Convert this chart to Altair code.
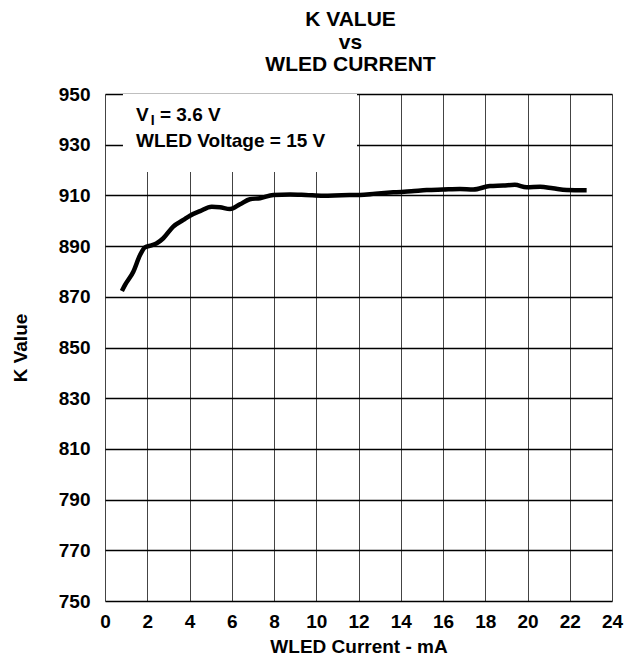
import altair as alt
import pandas as pd

# Curve
current = [0.8, 0.95, 1.34, 1.66, 1.89, 2.2, 2.45, 2.76, 3.23, 3.71, 4.02, 4.5, 5.05,
           5.44, 5.92, 6.39, 6.86, 7.34, 7.97, 8.76, 9.5, 10.33, 11.2, 12.07, 12.8,
           13.65, 14.5, 15.23, 16.0, 16.8, 17.43, 18.22, 18.85, 19.4, 19.96, 20.6,
           21.2, 21.85, 22.8]
k_value = [872.3, 874.7, 879.9, 886.5, 889.5, 890.3, 891.1, 893.1, 897.7, 900.3, 902.0,
           903.8, 905.5, 905.3, 904.6, 906.5, 908.5, 908.9, 910.2, 910.4, 910.2, 909.9,
           910.1, 910.2, 910.7, 911.2, 911.6, 912.1, 912.3, 912.5, 912.3, 913.7, 913.9,
           914.2, 913.2, 913.4, 912.8, 912.1, 912.0]

x_ticks = list(range(0, 25, 2))
y_ticks = list(range(750, 951, 20))

title_lines = ["K VALUE", "vs", "WLED CURRENT"]
x_title = "WLED Current - mA"
y_title = "K Value"

# Annotation (condition box) in data units
box_x = [0.85, 11.93]
box_y = [919.2, 950]
note_text = ["V", "I", "= 3.6 V", "WLED Voltage = 15 V"]
note_x = [1.47, 2.16, 2.6, 1.47]
note_y = [939.5, 937.6, 939.5, 929.2]
note_size = [19, 14, 19, 19]

FONT = "Liberation Sans"

df = pd.DataFrame({"current": current, "k": k_value})
box_df = pd.DataFrame({"x": [box_x[0]], "x2": [box_x[1]], "y": [box_y[0]], "y2": [box_y[1]]})
note_df = pd.DataFrame({"x": note_x, "y": note_y, "text": note_text, "size": note_size})

xscale = alt.Scale(domain=[0, 24], nice=False, zero=False)
yscale = alt.Scale(domain=[750, 950], nice=False, zero=False)

xaxis = alt.Axis(values=x_ticks, grid=True, ticks=False, domain=False,
                 gridColor="#444444", gridWidth=1,
                 labelFont=FONT, labelFontWeight="bold", labelFontSize=19,
                 labelColor="black", labelPadding=11, labelFlush=False,
                 title=x_title, titleFont=FONT, titleFontWeight="bold",
                 titleFontSize=19, titleColor="black",
                 titleX=253.5, titleY=45, titleBaseline="middle", titleAlign="center")
yaxis = alt.Axis(values=y_ticks, grid=True, ticks=False, domain=False,
                 gridColor="black", gridWidth=1.4,
                 labelFont=FONT, labelFontWeight="bold", labelFontSize=19,
                 labelColor="black", labelPadding=15, labelFlush=False,
                 title=y_title, titleFont=FONT, titleFontWeight="bold",
                 titleFontSize=19, titleColor="black",
                 titleX=-85, titleY=253.5, titleAngle=270,
                 titleBaseline="middle", titleAlign="center")

line = alt.Chart(df).mark_line(color="black", strokeWidth=4.5, interpolate="monotone").encode(
    x=alt.X("current:Q", scale=xscale, axis=xaxis),
    y=alt.Y("k:Q", scale=yscale, axis=yaxis),
)

box = alt.Chart(box_df).mark_rect(fill="white", stroke=None).encode(
    x=alt.X("x:Q", scale=xscale),
    x2="x2:Q",
    y=alt.Y("y:Q", scale=yscale),
    y2="y2:Q",
)

notes = alt.Chart(note_df).mark_text(align="left", baseline="alphabetic",
                                     font=FONT, fontWeight="bold", color="black").encode(
    x=alt.X("x:Q", scale=xscale),
    y=alt.Y("y:Q", scale=yscale),
    text="text:N",
    size=alt.Size("size:Q", scale=None, legend=None),
)

chart = alt.layer(box, line, notes).properties(
    width=507,
    height=507,
    title=alt.Title(title_lines, font=FONT, fontSize=21, fontWeight="bold",
                    color="black", anchor="middle", lineHeight=22.5, offset=10, dx=-8),
    autosize=alt.AutoSizeParams(type="none"),
    padding={"left": 97, "top": 86, "right": 22, "bottom": 55},
).configure_view(stroke="black", strokeWidth=2.2).configure(background="white")

chart.save("out.html", embed_options={"renderer": "svg", "actions": False})
